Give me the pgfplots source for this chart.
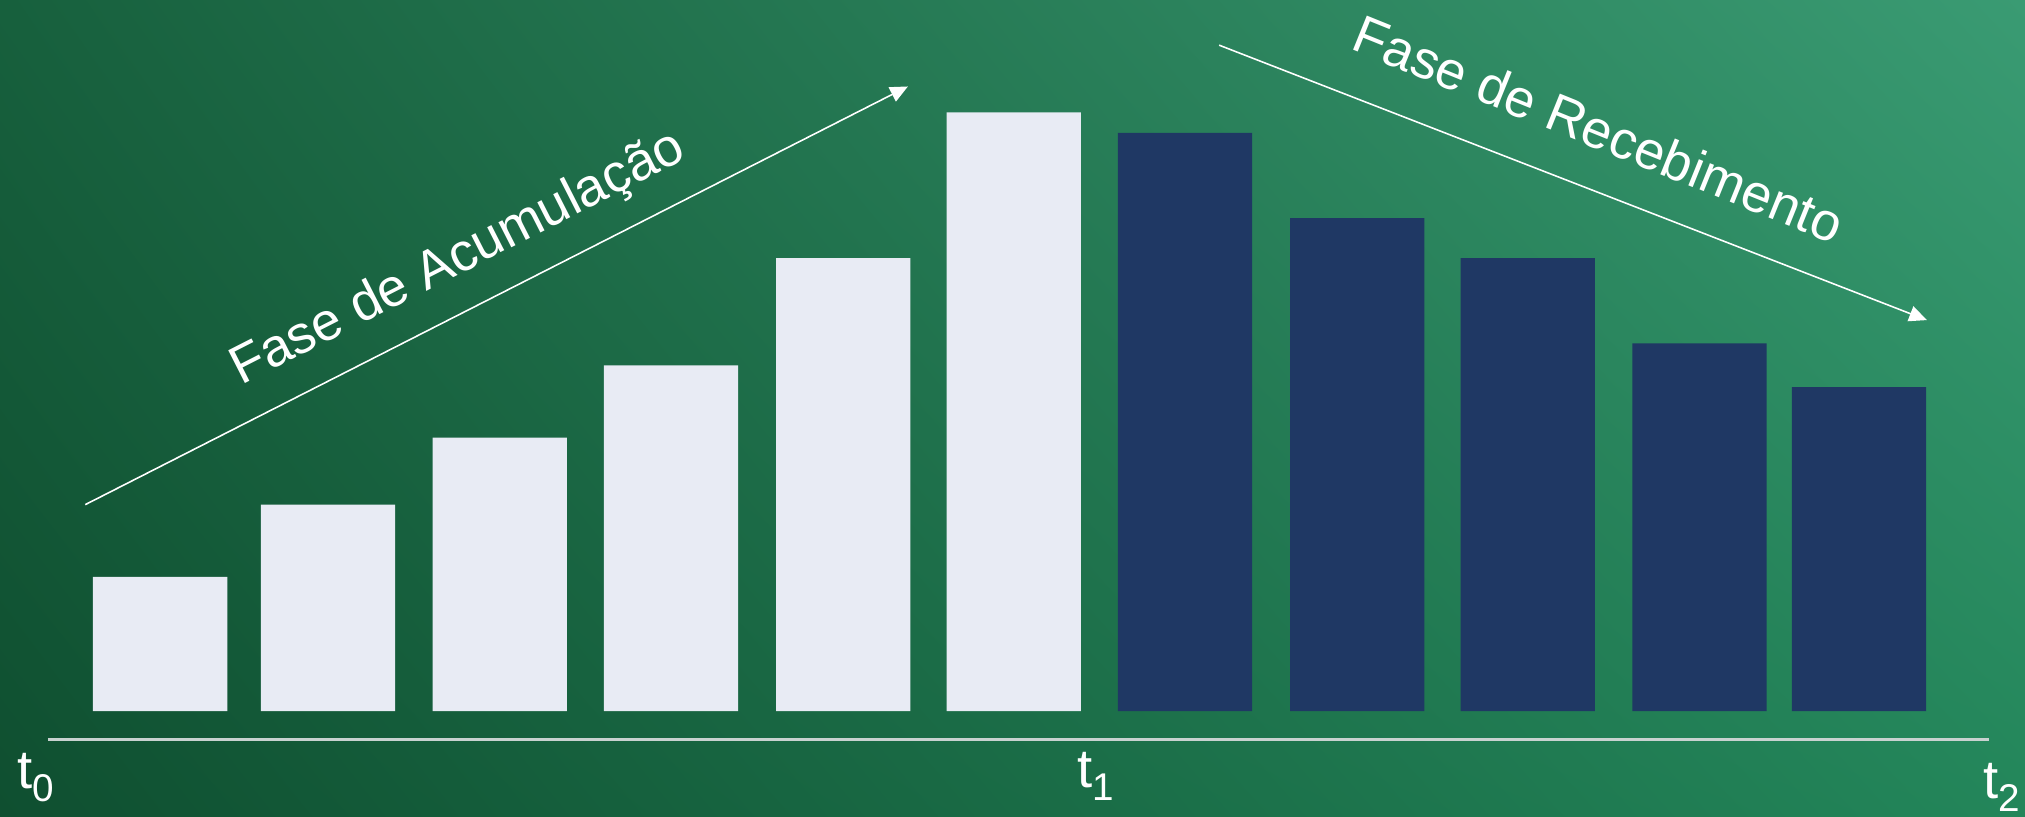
\documentclass[border=0pt]{standalone}
\usepackage{pgfplots}
\pgfplotsset{compat=1.18}
\usepackage{fontspec}
\setmainfont{Liberation Sans}
\usetikzlibrary{arrows.meta,shadings}

\definecolor{bgLL}{HTML}{0F4F30}
\definecolor{bgUL}{HTML}{17603D}
\definecolor{bgLR}{HTML}{23865A}
\definecolor{bgUR}{HTML}{3A9B73}
\definecolor{barLight}{HTML}{E8EBF4}
\definecolor{barDark}{HTML}{1F3864}
\definecolor{baseLine}{HTML}{C8D2D0}

\begin{document}
\begin{tikzpicture}
\begin{axis}[
	scale only axis,
	width=20.25cm, height=8.17cm,
	xmin=0, xmax=1568,
	ymin=-82, ymax=551,
	axis lines=none,
	clip=false,
	axis background/.style={shading=bilinear interpolation, lower left=bgLL, upper left=bgUL, lower right=bgLR, upper right=bgUR},
	ybar, bar width=104, bar shift=0pt,
]
% accumulation phase
\addplot[draw=none, fill=barLight]
	coordinates {(124,104) (254,160) (387,212) (519.5,268) (653,351) (785,464)};
% receiving phase
\addplot[draw=none, fill=barDark]
	coordinates {(917.5,448) (1051,382) (1183,351) (1316,285) (1439.5,251)};

\draw[baseLine, line width=0.6pt] (axis cs:37,-22) -- (axis cs:1540,-22);
\draw[white, line width=0.45pt, -{Triangle[length=5pt,width=4.5pt]}] (axis cs:66,160) -- (axis cs:703,484);
\draw[white, line width=0.45pt, -{Triangle[length=5pt,width=4.5pt]}] (axis cs:944,516) -- (axis cs:1492,303);

\node[overlay, white, rotate=27, font=\fontsize{15.2}{18}\selectfont] at (axis cs:355,350) {Fase de Acumulação};
\node[overlay, white, rotate=-22, font=\fontsize{15.2}{18}\selectfont] at (axis cs:1238,451) {Fase de Recebimento};

\node[white, anchor=base west, inner sep=0pt, font=\fontsize{15.5}{18}\selectfont] at (axis cs:13,-60) {t\raisebox{-3.7pt}{\fontsize{11}{12}\selectfont 0}};
\node[white, anchor=base west, inner sep=0pt, font=\fontsize{15.5}{18}\selectfont] at (axis cs:834,-59) {t\raisebox{-3.7pt}{\fontsize{11}{12}\selectfont 1}};
\node[white, anchor=base west, inner sep=0pt, font=\fontsize{15.5}{18}\selectfont] at (axis cs:1535,-68) {t\raisebox{-3.7pt}{\fontsize{11}{12}\selectfont 2}};
\end{axis}
\end{tikzpicture}
\end{document}
